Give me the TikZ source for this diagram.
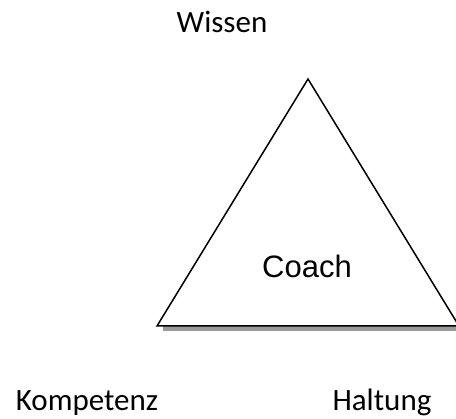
\documentclass[tikz,border=0pt]{standalone}
\usepackage{fontspec}
\setmainfont{Carlito}
\newfontfamily\coachfont{Liberation Sans}
\usepackage{tikz}
\usetikzlibrary{positioning,calc}
\usepackage{xcolor}
\definecolor{shadowgray}{gray}{0.6}

\begin{document}
\begin{tikzpicture}[x=1pt,y=-1pt,
    label/.style={font=\fontsize{31}{36}\selectfont, anchor=base, inner sep=0pt},
    coachtext/.style={font=\coachfont\fontsize{31}{36}\selectfont, anchor=base, inner sep=0pt}]
\useasboundingbox (0,0) rectangle (456,419);
\clip (0,0) rectangle (456,419);
% Dreieck mit Schatten unter der Grundlinie
\coordinate (top) at (308,79);
\coordinate (left) at (157,326);
\coordinate (right) at (459,326);
\fill[shadowgray] ($(left)+(6,0)$) rectangle ($(right)+(6,5)$);
\draw[line width=1.5pt, fill=white, line join=miter] (top) -- (left) -- (right) -- cycle;
\node (coach) at (307,278) [coachtext] {Coach};

% Ecken
\node (wissen) at (222,33) [label] {Wissen};
\node (kompetenz) at (87,411) [label] {Kompetenz};
\node (haltung) at (382,411) [label] {Haltung};
\end{tikzpicture}
\end{document}
